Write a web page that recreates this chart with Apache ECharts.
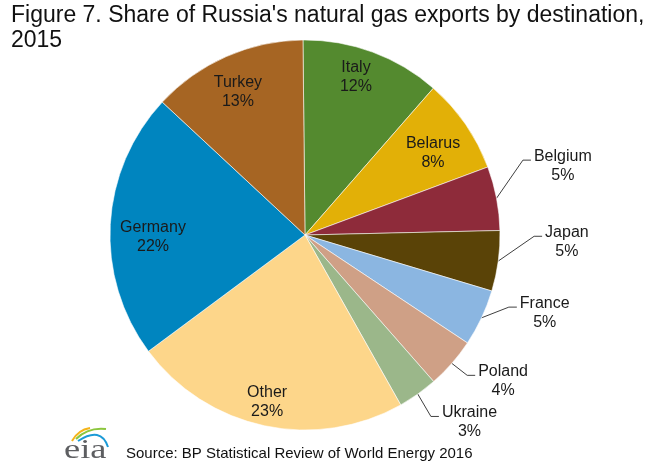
<!DOCTYPE html>
<html>
<head>
<meta charset="utf-8">
<script src="https://cdn.jsdelivr.net/npm/echarts@6/dist/echarts.min.js"></script>
<style>
html,body{margin:0;padding:0;background:#ffffff;}
#chart{width:659px;height:469px;}
</style>
</head>
<body>
<div id="chart"></div>
<script>
// ---- data ----
const destinations = ['Italy', 'Belarus', 'Belgium', 'Japan', 'France', 'Poland', 'Ukraine', 'Other', 'Germany', 'Turkey'];
const shares = [11.6, 7.9, 5.3, 5.0, 4.7, 4.2, 3.3, 23.0, 22.1, 12.9];
const shareLabels = ['12%', '8%', '5%', '5%', '5%', '4%', '3%', '23%', '22%', '13%'];

// ---- styles ----
const sliceColors = ['#548A2F', '#E2B007', '#8E2B3A', '#5A4307', '#8BB6E1', '#CFA086', '#9BB78A', '#FDD68A', '#0085BF', '#A66523'];
// label placement: [angle offset from slice middle (deg), distance from pie centre (px)]
const labelPlace = [[-2.4, 166], [2, 152], [-4.2, 267], [-6.2, 262], [-7.2, 252], [-4.8, 246], [-6, 249], [0.8, 171], [-4, 152], [-1.3, 158]];
const outsideLabel = [false, false, true, true, true, true, true, false, false, false];

const CX = 305, CY = 235, R = 195, START = 90.6, LINE_H = 19;
const FONT = '"Liberation Sans", Arial, sans-serif';

const total = shares.reduce((a, b) => a + b, 0);
const midAngles = []; // clockwise from 12 o'clock, degrees
let acc = 0;
shares.forEach(v => { midAngles.push((90 - START) + 360 * (acc + v / 2) / total); acc += v; });
function polar(deg, d) {
  const t = deg * Math.PI / 180;
  return [CX + d * Math.sin(t), CY - d * Math.cos(t)];
}

const chart = echarts.init(document.getElementById('chart'), null, {renderer: 'canvas'});

const data = destinations.map((n, i) => ({
  name: n,
  value: shares[i],
  itemStyle: {color: sliceColors[i]},
  label: {position: outsideLabel[i] ? 'outside' : 'inside'},
  labelLine: {show: outsideLabel[i]}
}));

chart.setOption({
  animation: false,
  backgroundColor: '#ffffff',
  title: [{
    text: "Figure 7. Share of Russia's natural gas exports by destination,\n2015",
    left: 6, top: -2, padding: 5,
    textStyle: {fontFamily: FONT, fontSize: 23, fontWeight: 'normal', color: '#111111', lineHeight: 25}
  }],
  graphic: [
    {type: 'text', x: 126, y: 453.5, silent: true,
     style: {text: 'Source: BP Statistical Review of World Energy 2016', font: '15px ' + FONT, fill: '#111111', verticalAlign: 'middle', align: 'left'}},
    {type: 'text', x: 64, y: 450.5, scaleX: 1.3, silent: true,
     style: {text: 'eia', font: '28px "Liberation Serif", "DejaVu Serif", serif', fill: '#5d5e61', verticalAlign: 'middle', align: 'left'}},
    {type: 'bezierCurve', silent: true, shape: {x1: 72, y1: 441, cpx1: 78, cpy1: 430, x2: 90, y2: 428},
     style: {stroke: '#F4B41A', lineWidth: 2, fill: null}},
    {type: 'bezierCurve', silent: true, shape: {x1: 76, y1: 439, cpx1: 88, cpy1: 427, x2: 106, y2: 429},
     style: {stroke: '#8CC63E', lineWidth: 2, fill: null}},
    {type: 'bezierCurve', silent: true, shape: {x1: 78, y1: 441, cpx1: 101, cpy1: 426, x2: 108, y2: 447},
     style: {stroke: '#1B9AD6', lineWidth: 2, fill: null}}
  ],
  series: [{
    type: 'pie',
    silent: true,
    center: [CX, CY],
    radius: R,
    startAngle: START,
    clockwise: true,
    avoidLabelOverlap: false,
    itemStyle: {borderColor: 'rgba(255,255,255,0.7)', borderWidth: 0.8},
    label: {
      show: true,
      formatter: p => p.name + '\n' + shareLabels[p.dataIndex],
      fontFamily: FONT, fontSize: 16, lineHeight: LINE_H, color: '#1a1a1a', align: 'center'
    },
    labelLine: {show: true, length: 10, length2: 8, lineStyle: {color: '#404040', width: 1}},
    labelLayout: function (p) {
      const i = p.dataIndex;
      const pl = labelPlace[i];
      const c = polar(midAngles[i] + pl[0], pl[1]);
      const out = {x: c[0], y: c[1], align: 'center', verticalAlign: 'middle'};
      if (outsideLabel[i]) {
        const w = p.labelRect ? p.labelRect.width : 50;
        const a = polar(midAngles[i], R);
        const cx = c[0] - w / 2 - 3, cy = c[1] - LINE_H / 2 + 4;
        out.labelLinePoints = [a, [cx - 8, cy], [cx, cy]];
      }
      return out;
    },
    data: data
  }]
});
</script>
</body>
</html>
